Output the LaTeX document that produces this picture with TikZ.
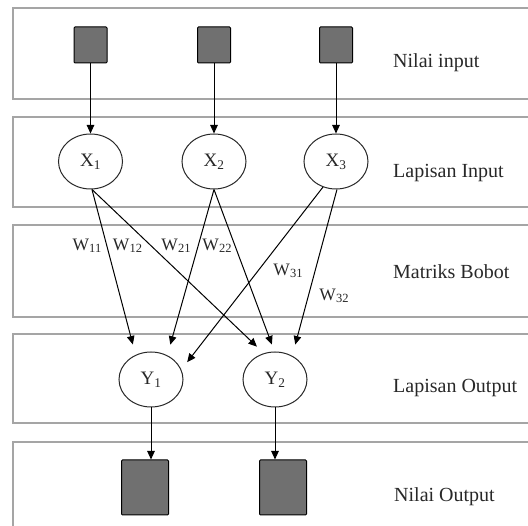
\documentclass[tikz,border=0pt]{standalone}
\usepackage{fontspec}
\setmainfont{Liberation Serif}
\usetikzlibrary{arrows.meta,shapes.geometric}
\definecolor{bandgray}{RGB}{165,165,165}
\definecolor{boxgray}{RGB}{112,112,112}
\definecolor{inkgray}{RGB}{40,40,40}
\newcommand{\wsub}[1]{\raisebox{-0.3ex}{\fontsize{12.5}{14}\selectfont #1}}
\begin{document}
\begin{tikzpicture}[x=1pt,y=-1pt,
  band/.style={draw=bandgray, line width=1.8pt},
  insq/.style={draw=black, fill=boxgray, line width=1pt, rounded corners=1pt, minimum width=33pt, minimum height=36pt, inner sep=0pt},
  outsq/.style={draw=black, fill=boxgray, line width=1pt, rounded corners=1pt, minimum width=47pt, minimum height=55pt, inner sep=0pt},
  neuron/.style={ellipse, draw=inkgray, fill=white, line width=1pt, minimum width=64pt, minimum height=55pt, inner sep=0pt, text=inkgray, font=\fontsize{19}{22}\selectfont},
  layerlbl/.style={anchor=base west, inner sep=0pt, text=inkgray, font=\fontsize{20}{24}\selectfont},
  wlbl/.style={inner sep=0pt, text=inkgray, font=\fontsize{17.5}{20}\selectfont},
  arr/.style={-{Triangle[length=8.5pt,width=7.5pt]}, line width=1pt, draw=black}]
\useasboundingbox (0,0) rectangle (528,526);
\clip (0,0) rectangle (528,526);
\fill[white] (0,0) rectangle (528,526);
% bands
\draw[band] (13,8) rectangle (560,99);
\draw[band] (13,117) rectangle (560,207);
\draw[band] (13,225) rectangle (560,317);
\draw[band] (13,334) rectangle (560,423);
\draw[band] (13,442) rectangle (560,580);
% nodes
\node[insq] (I1) at (90.5,45) {};
\node[insq] (I2) at (214,45) {};
\node[insq] (I3) at (336,45) {};
\node[neuron] (X1) at (90.5,161.5) {X\textsubscript{1}};
\node[neuron] (X2) at (214,161.5) {X\textsubscript{2}};
\node[neuron] (X3) at (336,161.5) {X\textsubscript{3}};
\node[neuron] (Y1) at (151,379.5) {Y\textsubscript{1}};
\node[neuron] (Y2) at (275,379.5) {Y\textsubscript{2}};
\node[outsq] (O1) at (145,487.5) {};
\node[outsq] (O2) at (283,487.5) {};
% input arrows
\draw[arr] (I1) -- (X1);
\draw[arr] (I2) -- (X2);
\draw[arr] (I3) -- (X3);
% weights
\draw[arr, shorten >=10.7pt] (X1.-87) -- (Y1.122);
\draw[arr, shorten >=9.5pt] (X1.-87) -- (Y2.113);
\draw[arr, shorten >=11pt] (X2.south) -- (Y1.56);
\draw[arr, shorten >=7.5pt] (X2.south) -- (Y2.91);
\draw[arr, shorten >=9.4pt] (X3.-117) -- (Y1.18);
\draw[arr, shorten >=11.6pt] (X3.-88) -- (Y2.54);
% output arrows
\draw[arr] (Y1.south) -- (Y1.south |- O1.north);
\draw[arr] (Y2.south) -- (Y2.south |- O2.north);
% weight labels
\node[wlbl] (w11) at (87,246) {W\wsub{11}};
\node[wlbl] (w12) at (127.5,246) {W\wsub{12}};
\node[wlbl] (w21) at (176,246) {W\wsub{21}};
\node[wlbl] (w22) at (217,246) {W\wsub{22}};
\node[wlbl] (w31) at (288,271) {W\wsub{31}};
\node[wlbl] (w32) at (334,296) {W\wsub{32}};
% layer labels
\node[layerlbl] (L1) at (393,68) {Nilai input};
\node[layerlbl] (L2) at (393,178) {Lapisan Input};
\node[layerlbl] (L3) at (393,279) {Matriks Bobot};
\node[layerlbl] (L4) at (393,393) {Lapisan Output};
\node[layerlbl] (L5) at (394,502) {Nilai Output};
\end{tikzpicture}
\end{document}
